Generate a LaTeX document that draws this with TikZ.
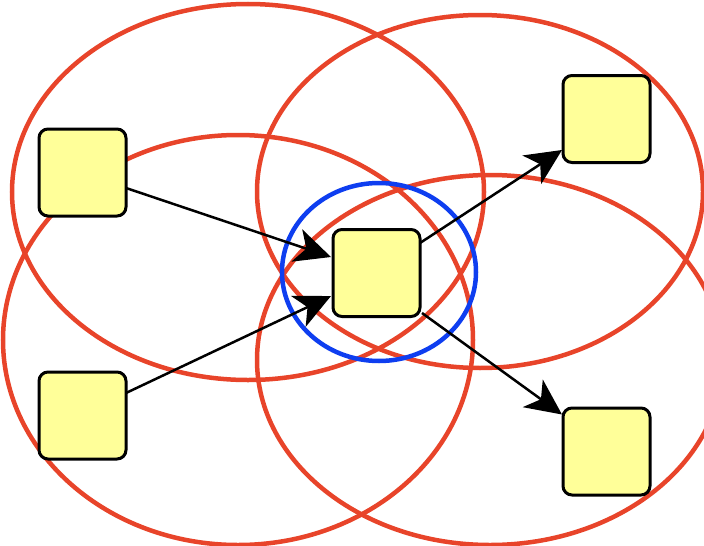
\documentclass[tikz,border=0pt]{standalone}
\usetikzlibrary{arrows.meta}
\definecolor{ringred}{RGB}{232,68,42}
\definecolor{ringblue}{RGB}{14,62,240}
\definecolor{boxfill}{RGB}{255,255,153}
\begin{document}
\begin{tikzpicture}[x=1pt,y=-1pt,
  ring/.style={draw=ringred,line width=4.5pt},
  core/.style={draw=ringblue,line width=4.5pt},
  cell/.style={draw=black,fill=boxfill,line width=3pt,rounded corners=9pt,
    minimum size=87pt,inner sep=0pt,outer sep=0pt},
  link/.style={draw=black,line width=2.5pt,
    -{Stealth[length=36pt,width=34pt,inset=10pt]}}]
\useasboundingbox (0,0) rectangle (704,546);
% coverage ranges
\draw[ring] (248,192) ellipse [x radius=236,y radius=188];
\draw[ring] (480,191.5) ellipse [x radius=223,y radius=176.5];
\draw[ring] (238,340) ellipse [x radius=235,y radius=205];
\draw[ring] (490,360) ellipse [x radius=233,y radius=185];
\draw[core] (379,272) ellipse [x radius=97,y radius=89];
% stations
\node[cell] (A) at (82.5,172.5) {};
\node[cell] (B) at (82.5,415.5) {};
\node[cell] (C) at (376.5,273) {};
\node[cell] (D) at (606.5,119) {};
\node[cell] (E) at (606.5,451.5) {};
% links
\draw[link] ([yshift=-15.5pt]A.east) -- ([xshift=-2pt,yshift=16pt]C.west);
\draw[link] ([yshift=22.5pt]B.east) -- ([xshift=-2pt,yshift=-23pt]C.west);
\draw[link] ([yshift=30pt]C.east) -- ([xshift=-1pt,yshift=-31pt]D.west);
\draw[link] ([xshift=2pt,yshift=-40pt]C.east) -- ([xshift=-1pt,yshift=37pt]E.west);
\end{tikzpicture}
\end{document}
